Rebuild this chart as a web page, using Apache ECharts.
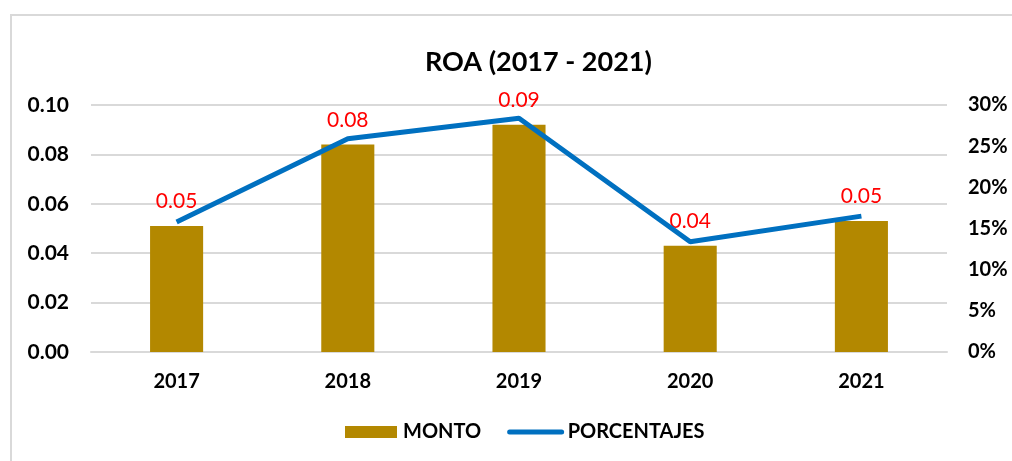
<!DOCTYPE html>
<html>
<head>
<meta charset="utf-8">
<script src="https://cdn.jsdelivr.net/npm/echarts@6/dist/echarts.min.js"></script>
<style>
  html, body { margin: 0; padding: 0; background: #fff; }
  #chart { width: 1012px; height: 461px; }
</style>
</head>
<body>
<div id="chart"></div>
<script>
// datos
var years = ["2017", "2018", "2019", "2020", "2021"];
var monto = [0.051, 0.084, 0.092, 0.043, 0.053];
var porcentajes = [15.8, 25.9, 28.4, 13.4, 16.5];

var font = 'Lato';
var myChart = echarts.init(document.getElementById('chart'));

var option = {
    animation: false,
    textStyle: { fontFamily: font },
    title: {
        text: 'ROA (2017 - 2021)',
        left: 420,
        top: 44,
        textStyle: { fontSize: 27, fontWeight: 'bold', color: '#000', fontFamily: font }
    },
    graphic: [{
        type: 'rect',
        shape: { x: 11, y: 15, width: 1100, height: 600 },
        style: { fill: 'none', stroke: '#d9d9d9', lineWidth: 2 },
        silent: true
    }],
    legend: {
        bottom: 14,
        left: 340,
        itemWidth: 52,
        itemHeight: 12,
        itemGap: 26,
        textStyle: { fontSize: 20, fontWeight: 'bold', color: '#000', fontFamily: font, padding: [0, 0, 0, 1] },
        data: [
            { name: 'MONTO', icon: 'rect' },
            { name: 'PORCENTAJES', itemStyle: { opacity: 0 }, lineStyle: { width: 5, cap: 'round' } }
        ]
    },
    grid: { left: 91, right: 65, top: 105, bottom: 109 },
    xAxis: {
        type: 'category',
        data: years,
        axisLine: { lineStyle: { color: '#d9d9d9', width: 2 } },
        axisTick: { show: false },
        axisLabel: { margin: 20, fontSize: 20, fontWeight: 'bold', color: '#000', fontFamily: font }
    },
    yAxis: [{
        type: 'value',
        min: 0,
        max: 0.1,
        interval: 0.02,
        axisLine: { show: false },
        axisTick: { show: false },
        splitLine: { lineStyle: { color: '#d9d9d9', width: 2 } },
        axisLabel: {
            margin: 22, fontSize: 21, fontWeight: 'bold', color: '#000', fontFamily: font,
            formatter: function (v) { return v.toFixed(2); }
        }
    }, {
        type: 'value',
        min: 0,
        max: 30,
        interval: 5,
        position: 'right',
        axisLine: { show: false },
        axisTick: { show: false },
        splitLine: { show: false },
        axisLabel: {
            margin: 21, fontSize: 20, fontWeight: 'bold', color: '#000', fontFamily: font,
            formatter: '{value}%'
        }
    }],
    series: [{
        name: 'MONTO',
        type: 'bar',
        data: monto,
        barWidth: '31%',
        itemStyle: { color: '#b38800' },
        label: {
            show: true,
            position: 'top',
            distance: 14,
            color: '#ff0000',
            fontSize: 21,
            fontFamily: font,
            formatter: function (p) { return p.value.toFixed(2); }
        },
        z: 2
    }, {
        name: 'PORCENTAJES',
        type: 'line',
        yAxisIndex: 1,
        data: porcentajes,
        showSymbol: false,
        symbol: 'none',
        lineStyle: { color: '#0070c0', width: 5 },
        itemStyle: { color: '#0070c0' },
        z: 3
    }]
};
myChart.setOption(option);
</script>
</body>
</html>
